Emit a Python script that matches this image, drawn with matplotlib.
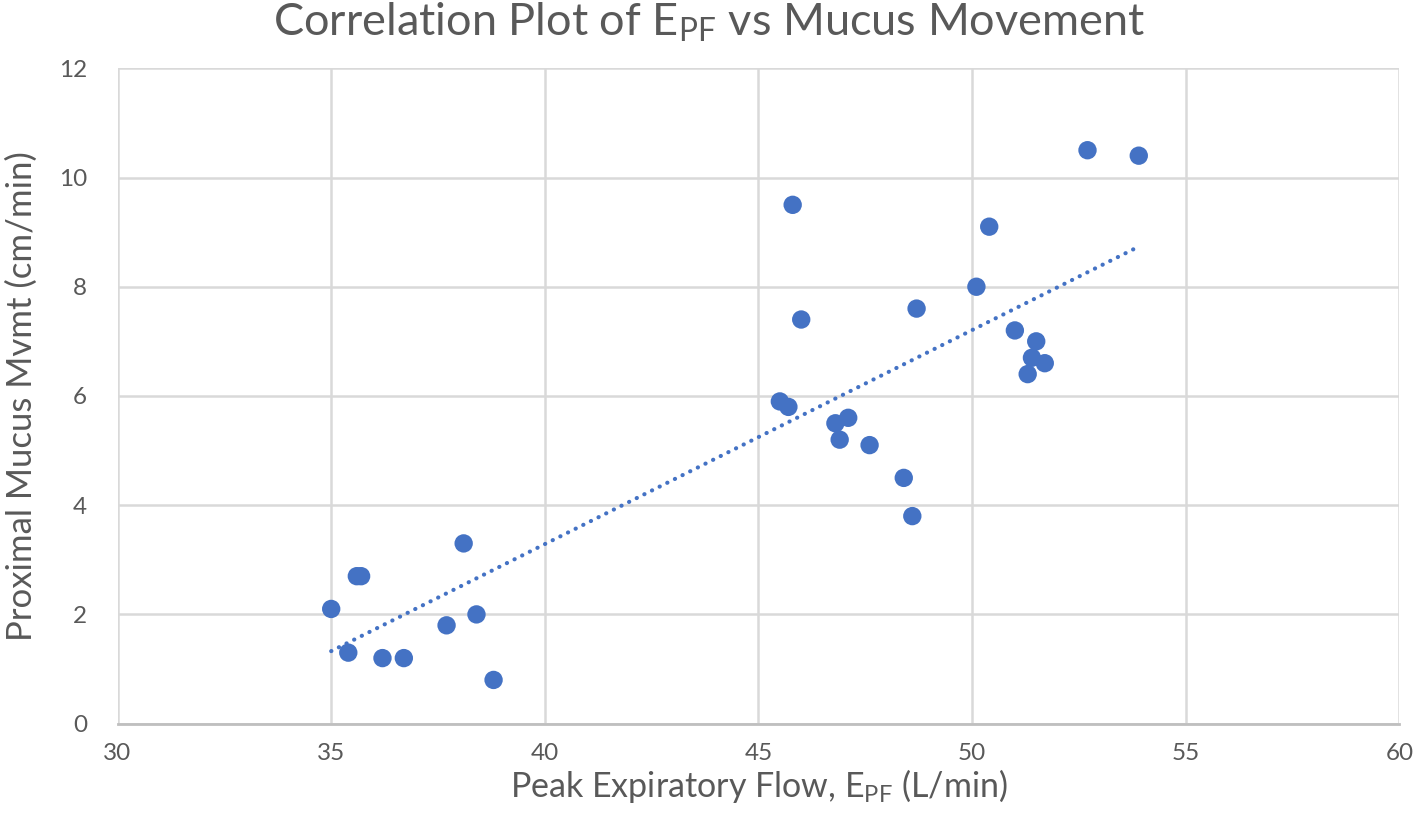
import numpy as np
import matplotlib.pyplot as plt

# peak expiratory flow (L/min) vs proximal mucus movement (cm/min)
epf = [35.0, 35.4, 35.6, 35.7, 36.2, 36.7, 37.7, 38.1, 38.4, 38.8,
       45.5, 45.7, 45.8, 46.0, 46.8, 46.9, 47.1, 47.6, 48.4, 48.6,
       48.7, 50.1, 50.4, 51.0, 51.3, 51.4, 51.5, 51.7, 52.7, 53.9]
mucus = [2.1, 1.3, 2.7, 2.7, 1.2, 1.2, 1.8, 3.3, 2.0, 0.8,
         5.9, 5.8, 9.5, 7.4, 5.5, 5.2, 5.6, 5.1, 4.5, 3.8,
         7.6, 8.0, 9.1, 7.2, 6.4, 6.7, 7.0, 6.6, 10.5, 10.4]
x_ticks = [30, 35, 40, 45, 50, 55, 60]
y_ticks = [0, 2, 4, 6, 8, 10, 12]

BLUE = "#4472c4"
TEXT = "#595959"
GRID = "#d9d9d9"

plt.rcParams["font.family"] = ["Lato", "DejaVu Sans"]
plt.rcParams["mathtext.fontset"] = "custom"
plt.rcParams["mathtext.rm"] = "Lato"
plt.rcParams["mathtext.it"] = "Lato"

fig = plt.figure(figsize=(14.18, 8.33), dpi=100)
ax = fig.add_axes([0.0829, 0.1313, 0.904, 0.7867])

ax.scatter(epf, mucus, s=175, color=BLUE, edgecolors="none", zorder=3)

# linear trendline
slope, icpt = np.polyfit(epf, mucus, 1)
xs = np.array([min(epf), max(epf)])
ax.plot(xs, slope * xs + icpt, color=BLUE, lw=3, ls=(0, (0.05, 2.0)),
        dash_capstyle="round", zorder=2)

ax.set_xlim(30, 60)
ax.set_ylim(0, 12)
ax.set_xticks(x_ticks)
ax.set_yticks(y_ticks)
ax.grid(True, color=GRID, lw=1.8)
ax.set_axisbelow(True)
for side in ["top", "right", "left"]:
    ax.spines[side].set_visible(False)
ax.spines["bottom"].set_color("#bfbfbf")
ax.spines["bottom"].set_linewidth(2)
ax.tick_params(length=0, labelsize=17.5, colors=TEXT, pad=14)
ax.tick_params(axis="y", pad=22)

ax.set_xlabel(r"Peak Expiratory Flow, E$_{\mathrm{PF}}$ (L/min)",
              fontsize=24.5, color=TEXT, labelpad=2)
ax.set_ylabel("Proximal Mucus Mvmt (cm/min)", fontsize=25, color=TEXT,
              labelpad=15)
fig.suptitle(r"Correlation Plot of E$_{\mathrm{PF}}$ vs Mucus Movement",
             fontsize=32.5, color=TEXT, y=1.0)

fig.savefig("out.png", facecolor="white")
